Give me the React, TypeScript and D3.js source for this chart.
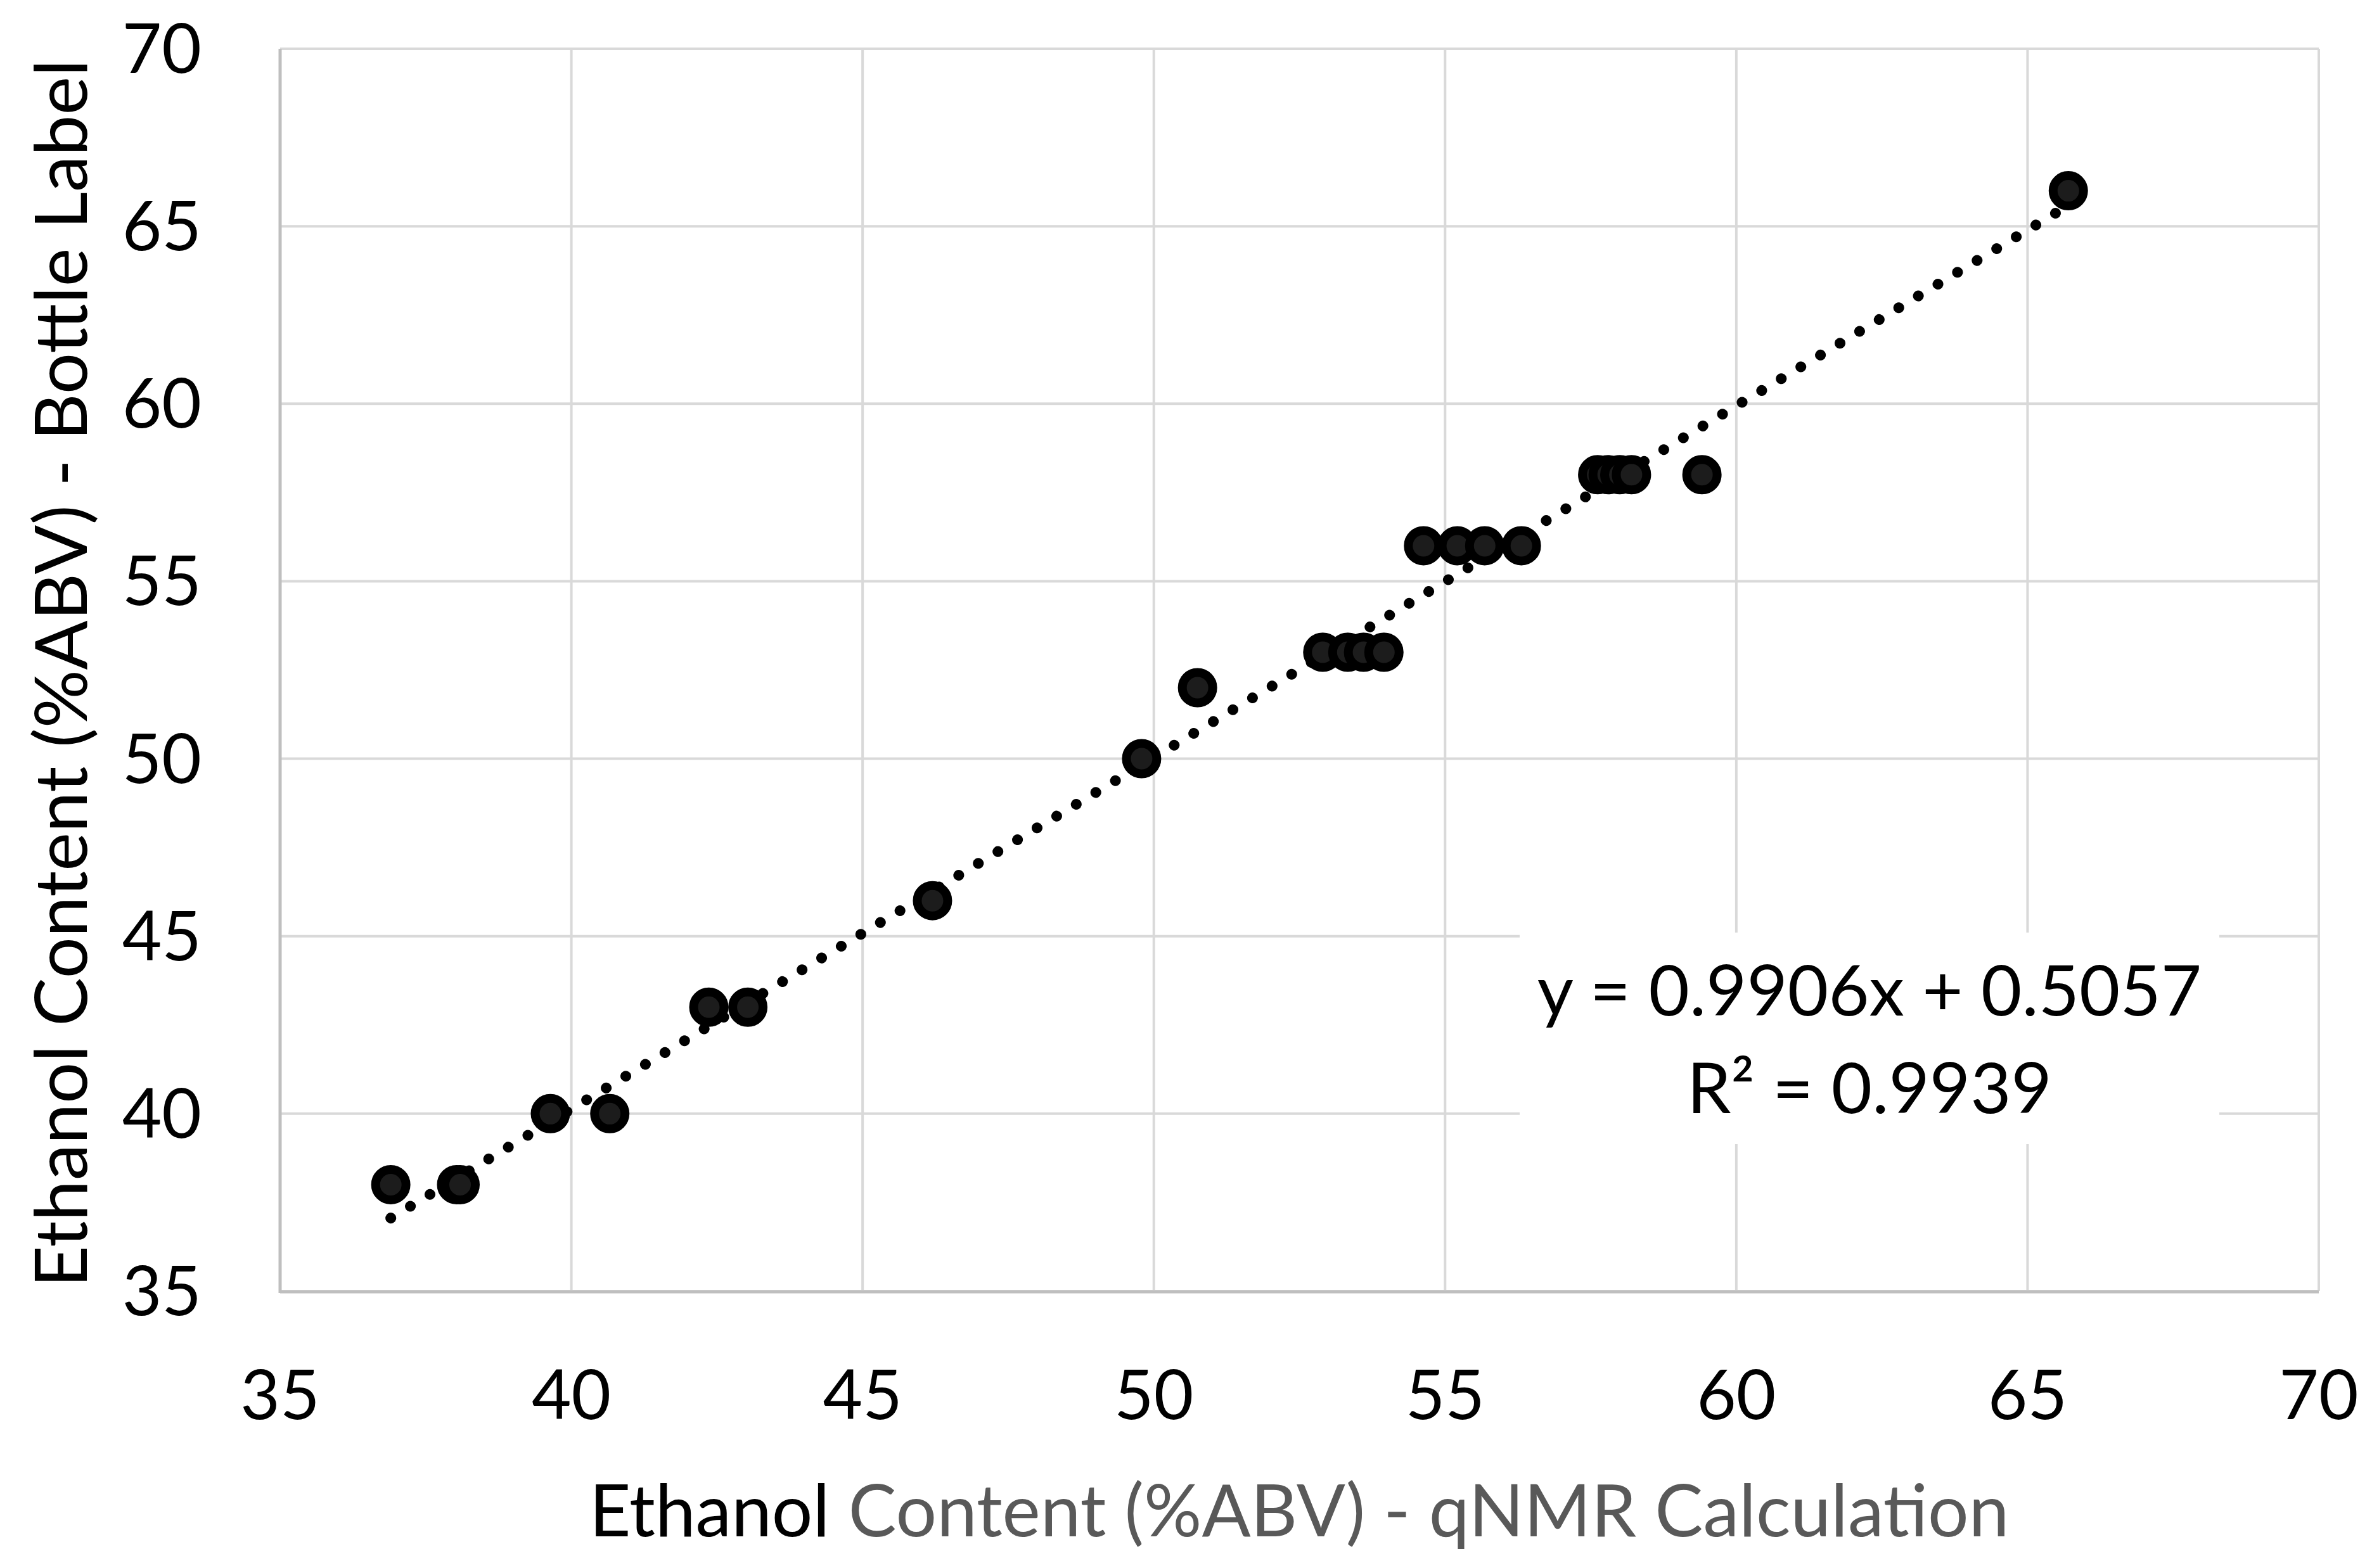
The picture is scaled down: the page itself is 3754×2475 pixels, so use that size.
import React from "react";
import * as d3 from "d3";

// qNMR calculated %ABV (x) vs bottle-label %ABV (y)
const QNMR = [36.9, 38.03, 38.09, 39.64, 40.66, 42.36, 43.03, 46.2, 49.79, 50.75,
  52.9, 53.33, 53.6, 53.95, 54.63, 55.21, 55.68, 56.31, 57.62, 57.8, 58.0, 58.2, 59.41, 65.7];
const LABEL = [38, 38, 38, 40, 40, 43, 43, 46, 50, 52,
  53, 53, 53, 53, 56, 56, 56, 56, 58, 58, 58, 58, 58, 66];

const TICKS = [35, 40, 45, 50, 55, 60, 65, 70];
const SLOPE = 0.9906;
const INTERCEPT = 0.5057;
const EQ_TEXT = "y = 0.9906x + 0.5057";
const R2_TEXT = "R² = 0.9939";

const W = 3754;
const H = 2475;
const FONT = "Lato, 'Open Sans', sans-serif";

export default function App() {
  const x = d3.scaleLinear().domain([35, 70]).range([442, 3659]);
  const y = d3.scaleLinear().domain([35, 70]).range([2038, 77]);

  const pts = QNMR.map((v, i) => ({ x: v, y: LABEL[i] }));
  const xMin = d3.min(QNMR) as number;
  const xMax = d3.max(QNMR) as number;
  const trend = d3.line<number>()
    .x(d => x(d))
    .y(d => y(SLOPE * d + INTERCEPT))([xMin, xMax]);

  const [x0, x1] = x.range();
  const [y0, y1] = y.range();

  return (
    <svg width={W} height={H} style={{ position: "absolute", left: 0, top: 0, background: "#fff" }}>
      <rect width={W} height={H} fill="#fff" />
      {/* grid */}
      {TICKS.map(t => (
        <line key={"v" + t} x1={x(t)} x2={x(t)} y1={y1} y2={y0} stroke="#d9d9d9" strokeWidth={4} />
      ))}
      {TICKS.map(t => (
        <line key={"h" + t} x1={x0} x2={x1} y1={y(t)} y2={y(t)} stroke="#d9d9d9" strokeWidth={4} />
      ))}
      {/* axes */}
      <line x1={x0} x2={x0} y1={y1} y2={y0 + 3} stroke="#bfbfbf" strokeWidth={5} />
      <line x1={x0} x2={x1} y1={y0 + 1} y2={y0 + 1} stroke="#bfbfbf" strokeWidth={5} />

      {/* tick labels */}
      {TICKS.map(t => (
        <text key={"xl" + t} x={x(t)} y={2240} textAnchor="middle" fontFamily={FONT} fontSize={108} fill="#000">{t}</text>
      ))}
      {TICKS.map(t => (
        <text key={"yl" + t} x={318} y={y(t) + 38} textAnchor="end" fontFamily={FONT} fontSize={108} fill="#000">{t}</text>
      ))}

      {/* equation box */}
      <rect x={2398} y={1472} width={1104} height={334} fill="#fff" />

      {/* trendline */}
      <path d={trend ?? ""} fill="none" stroke="#000" strokeWidth={17} strokeLinecap="round" strokeDasharray="0.1 36" />

      {/* points */}
      {pts.map((p, i) => (
        <circle key={i} cx={x(p.x)} cy={y(p.y)} r={24} fill="#1c1c1c" stroke="#000" strokeWidth={14} />
      ))}

      <text x={2950} y={1603} textAnchor="middle" fontFamily={FONT} fontSize={111} fill="#000">{EQ_TEXT}</text>
      <text x={2950} y={1757} textAnchor="middle" fontFamily={FONT} fontSize={111} fill="#000">{R2_TEXT}</text>

      {/* axis titles */}
      <text x={2050} y={2425} textAnchor="middle" fontFamily={FONT} fontSize={114}>
        <tspan fill="#000">Ethanol </tspan>
        <tspan fill="#595959">Content (%ABV) - qNMR Calculation</tspan>
      </text>
      <text transform={`translate(137,${1063}) rotate(-90)`} textAnchor="middle" fontFamily={FONT} fontSize={115} fill="#000">
        Ethanol Content (%ABV) - Bottle Label
      </text>
    </svg>
  );
}
